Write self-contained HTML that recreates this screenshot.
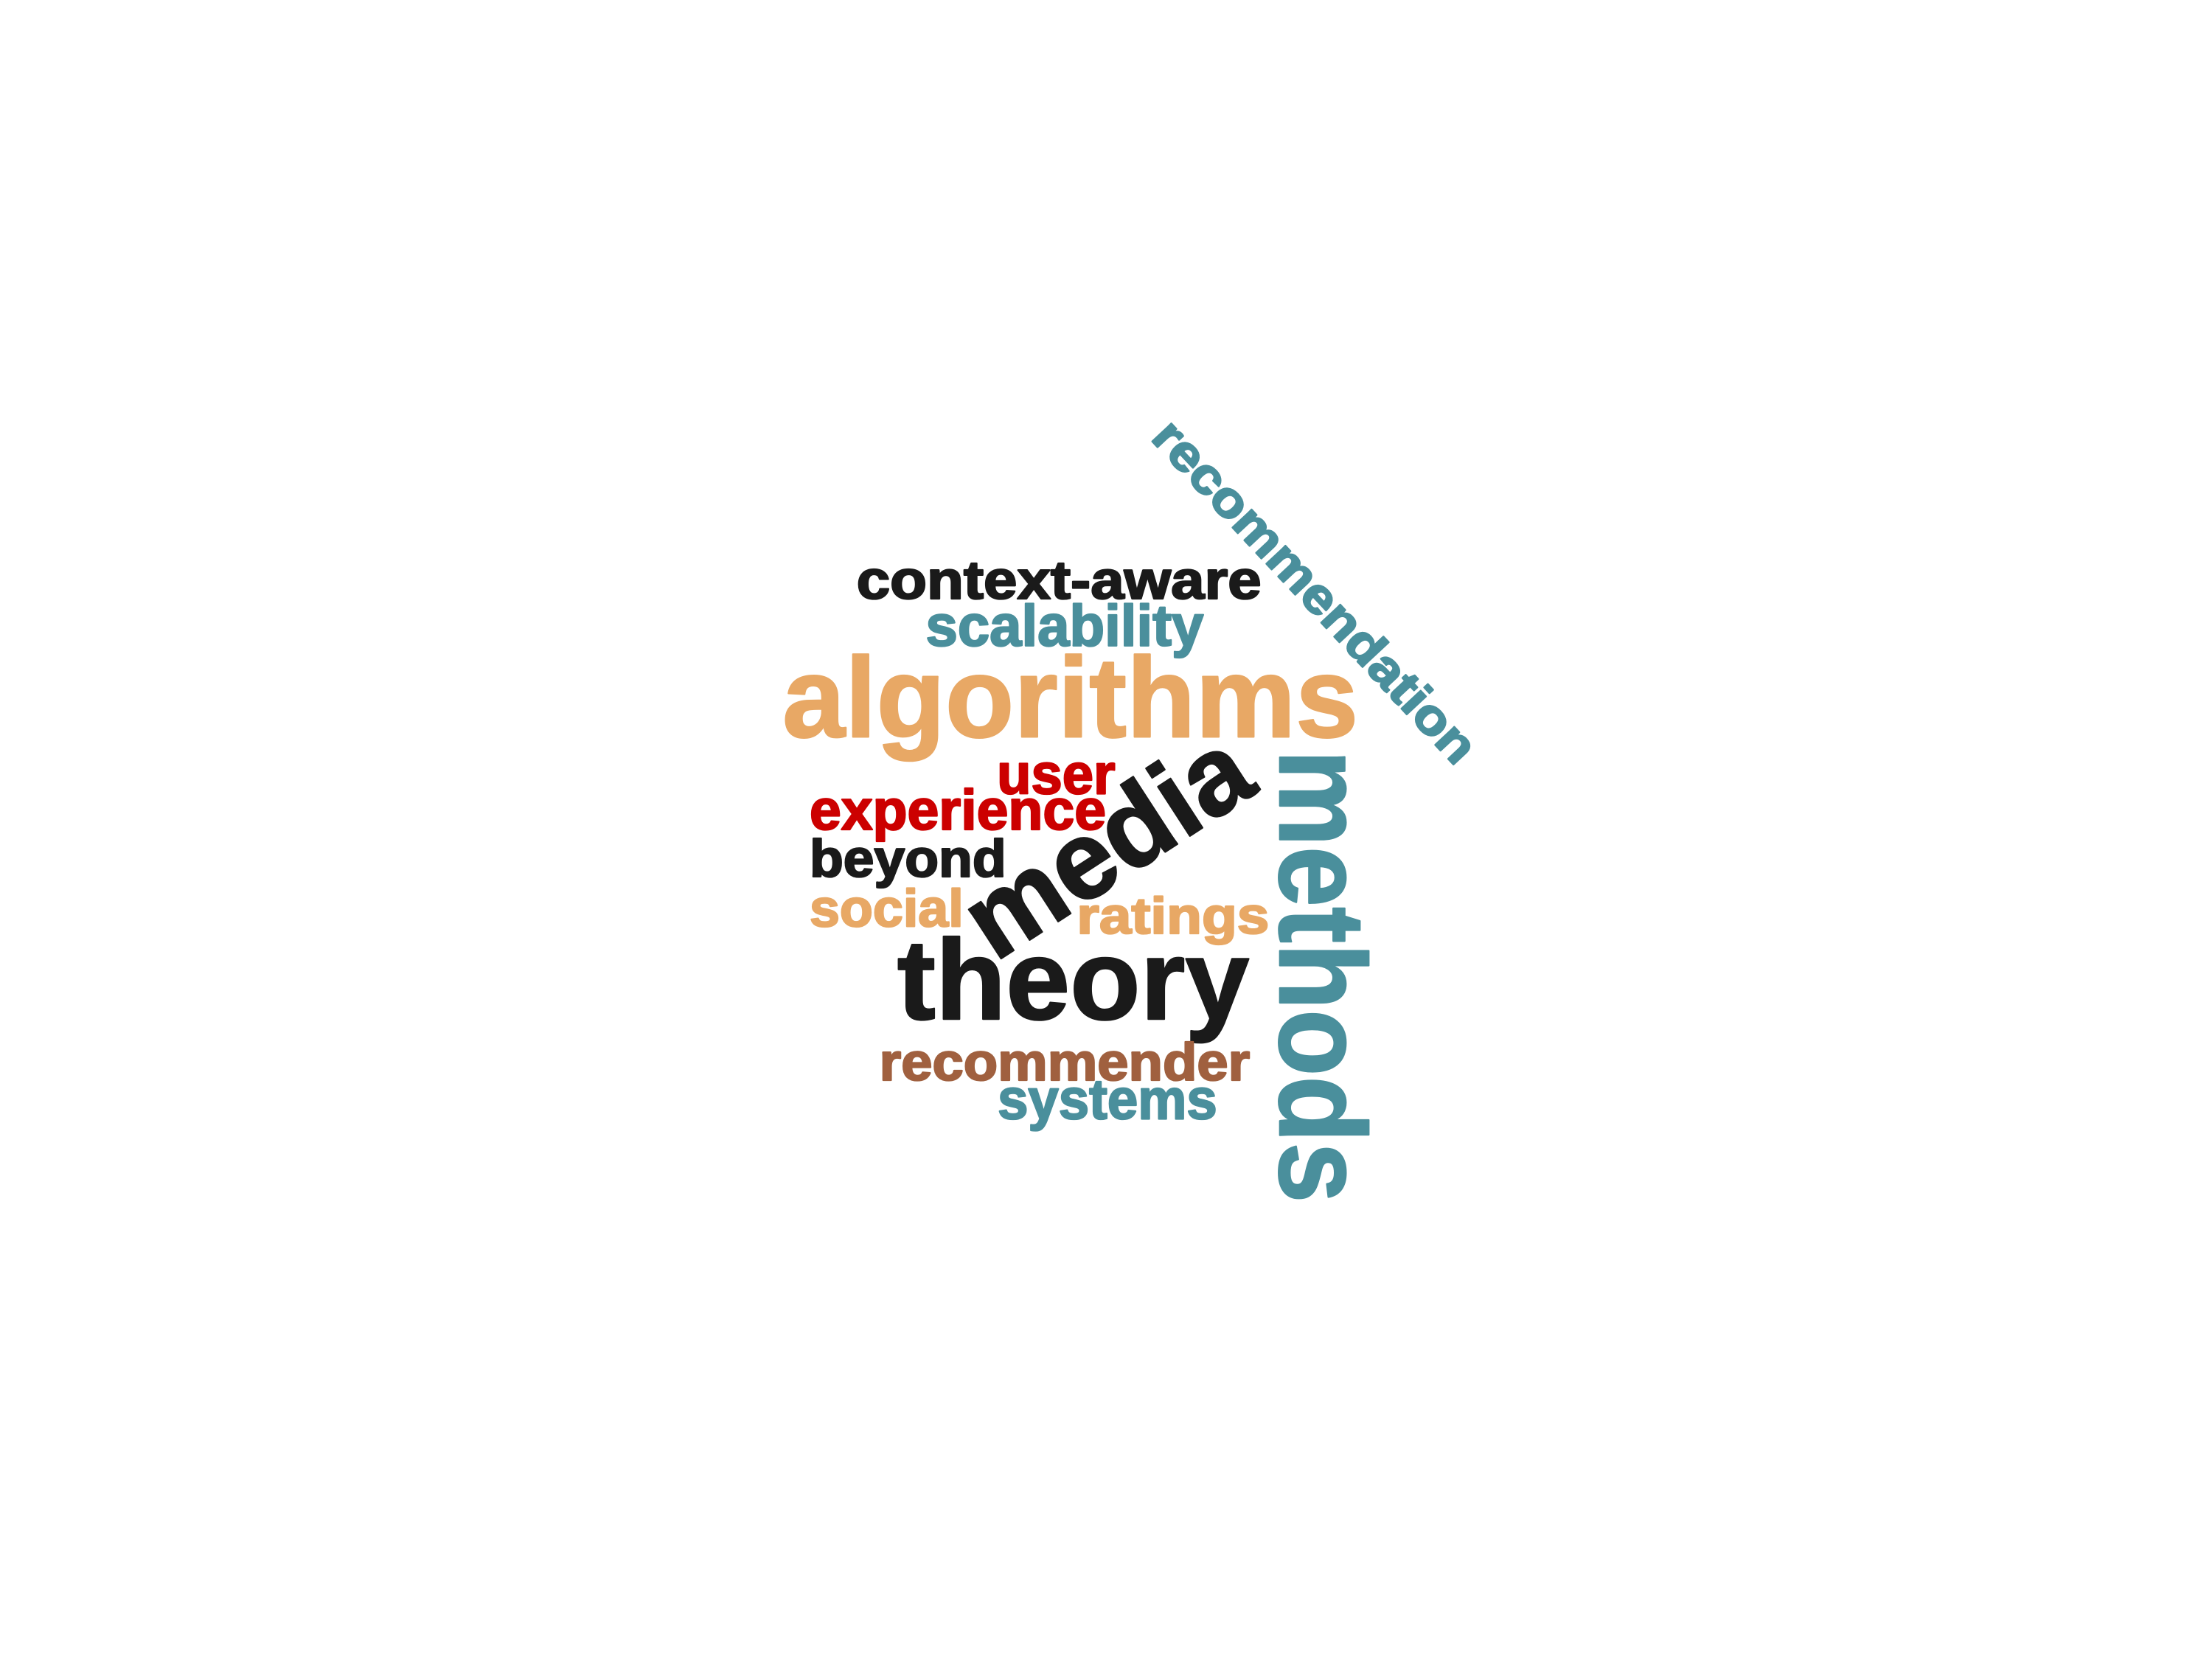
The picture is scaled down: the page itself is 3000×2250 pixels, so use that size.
<!DOCTYPE html>
<html><head><meta charset="utf-8"><style>html,body{margin:0;padding:0;background:#fff}svg{display:block}text{font-family:"Liberation Sans",sans-serif;font-weight:bold;stroke-width:1.2;stroke-linejoin:round}</style></head>
<body>
<svg width="3000" height="2250" viewBox="0 0 1552 1164" xmlns="http://www.w3.org/2000/svg">
<rect width="1552" height="1164" fill="#fff"/>
<g transform="translate(-7,-5)">
<text x="750" y="425" font-size="38" fill="#1a1a1a" stroke="#1a1a1a" text-anchor="middle" textLength="284" lengthAdjust="spacingAndGlyphs">context-aware</text>
<text x="754" y="458" font-size="41" fill="#4a8f9c" stroke="#4a8f9c" text-anchor="middle" textLength="195" lengthAdjust="spacingAndGlyphs">scalability</text>
<text x="758" y="522" font-size="80" fill="#e8a865" stroke="#e8a865" text-anchor="middle" textLength="404" lengthAdjust="spacingAndGlyphs">algorithms</text>
<text x="748" y="562" font-size="40" fill="#cc0000" stroke="#cc0000" text-anchor="middle" textLength="83" lengthAdjust="spacingAndGlyphs">user</text>
<text x="679" y="587" font-size="40" fill="#cc0000" stroke="#cc0000" text-anchor="middle" textLength="208" lengthAdjust="spacingAndGlyphs">experience</text>
<text x="644" y="620" font-size="37" fill="#1a1a1a" stroke="#1a1a1a" text-anchor="middle" textLength="138" lengthAdjust="spacingAndGlyphs">beyond</text>
<text x="629" y="655" font-size="37" fill="#e8a865" stroke="#e8a865" text-anchor="middle" textLength="108" lengthAdjust="spacingAndGlyphs">social</text>
<text x="830" y="660" font-size="36" fill="#e8a865" stroke="#e8a865" text-anchor="middle" textLength="135" lengthAdjust="spacingAndGlyphs">ratings</text>
<text x="760" y="720" font-size="80" fill="#1a1a1a" stroke="#1a1a1a" text-anchor="middle" textLength="247" lengthAdjust="spacingAndGlyphs">theory</text>
<text x="754" y="763" font-size="37" fill="#a0603f" stroke="#a0603f" text-anchor="middle" textLength="260" lengthAdjust="spacingAndGlyphs">recommender</text>
<text x="784" y="790" font-size="40" fill="#4a8f9c" stroke="#4a8f9c" text-anchor="middle" textLength="154" lengthAdjust="spacingAndGlyphs">systems</text>
<text transform="translate(798,620) rotate(-33)" x="0" y="0" font-size="78" fill="#1a1a1a" stroke="#1a1a1a" text-anchor="middle" textLength="222" lengthAdjust="spacingAndGlyphs">media</text>
<text transform="translate(905,690) rotate(90)" x="0" y="0" font-size="86" fill="#4a8f9c" stroke="#4a8f9c" text-anchor="middle" textLength="318" lengthAdjust="spacingAndGlyphs">methods</text>
<text transform="translate(921,428) rotate(47)" x="0" y="0" font-size="35" fill="#4a8f9c" stroke="#4a8f9c" text-anchor="middle" textLength="315" lengthAdjust="spacingAndGlyphs">recommendation</text>
</g>
</svg>
</body></html>
